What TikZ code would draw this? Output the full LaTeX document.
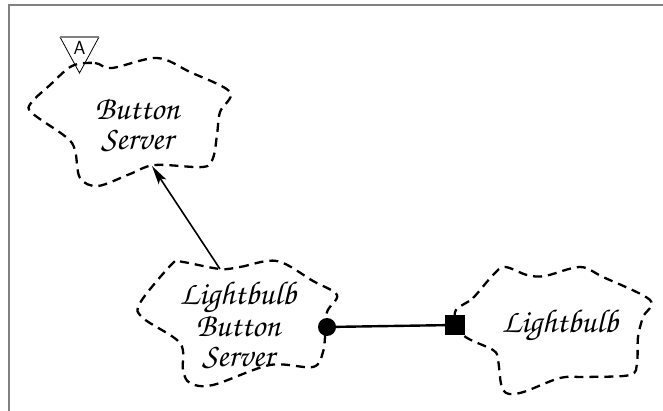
\documentclass[tikz,border=0pt]{standalone}
\usepackage[T1,TU]{fontenc}
\usetikzlibrary{arrows.meta}
\newcommand\chanc{\fontencoding{T1}\fontfamily{pzc}\fontseries{mb}\fontshape{it}\selectfont}
\tikzset{
  cloudline/.style={line width=2.3pt, dash pattern=on 9pt off 6pt},
  label/.style={font=\fontsize{33}{30}\chanc, align=center, inner sep=0pt},
  frame/.style={draw=black!50, line width=1.8pt},
}
\begin{document}
\begin{tikzpicture}[x=1pt,y=-1pt]
\useasboundingbox (0,0) rectangle (663,411);
% partial frame
\draw[frame] (9,411) -- (9,5) -- (663,5);

% Button Server cloud
\draw[cloudline] plot[smooth cycle, tension=0.55] coordinates {
 (72,66) (95,63) (112,68) (157,58) (190,72) (230,92) (220,112)
 (217,135) (213,158) (203,167) (155,165) (130,174) (98,186) (80,178)
 (75,150) (66,137) (32,113) (31,103) (50,85)};
\node[label] (bs) at (137,125) {Button\\Server};
\coordinate (bsbottom) at (152,166);

% abstract adornment
\draw[line width=0.8pt] (60,37) -- (79.5,73) -- (99,37);
\draw[frame, line width=1.5pt] (60,37) -- (99,37);
\node[font=\sffamily\fontsize{19}{19}\selectfont, inner sep=0pt] (abs) at (79.5,48) {A};

% Lightbulb Button Server cloud
\draw[cloudline] plot[smooth cycle, tension=0.55] coordinates {
 (220,269) (240,267) (277,261) (313,281) (337,295) (327,312)
 (325,337) (323,352) (313,367) (270,365) (213,385) (190,383)
 (183,370) (180,343) (143,318) (140,303) (173,263) (183,262)};
\node[label] (lbs) at (238,325) {Lightbulb\\Button\\Server};
\coordinate (lbstop) at (220,269);

% Lightbulb cloud
\draw[cloudline] plot[smooth cycle, tension=0.55] coordinates {
 (455,312) (473,298) (493,275) (505,267) (527,275) (545,276)
 (580,267) (603,277) (650,300) (643,317) (638,337) (637,363)
 (630,375) (587,377) (560,378) (520,393) (503,390) (498,360)
 (493,350) (463,335)};
\node[label] (lb) at (560,326) {Lightbulb};

% connectors
\draw[line width=1.6pt, -{Stealth[length=19pt,width=9pt,inset=4pt]}] (lbstop) -- (bsbottom);
\node[circle, fill=black, inner sep=0pt, minimum size=18pt] (dot) at (327,327) {};
\node[rectangle, fill=black, inner sep=0pt, minimum size=20pt] (sq) at (455,325) {};
\draw[line width=2.4pt] (dot.center) -- (sq.center);
\end{tikzpicture}
\end{document}
